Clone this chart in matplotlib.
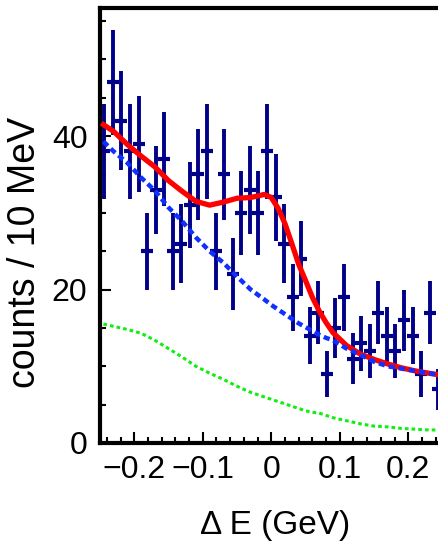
import numpy as np
import matplotlib.pyplot as plt
from matplotlib.ticker import MultipleLocator

plt.rcParams['font.family'] = ['Liberation Sans', 'DejaVu Sans']

# data points, 12.5 MeV bins from -0.25 to 0.25 GeV
bin_centers = np.arange(-0.24375, 0.25, 0.0125)
counts = [38, 47, 42, 38, 39, 25, 33, 37, 25, 26,
          31, 35, 38, 25, 35, 22, 30, 33, 30, 38,
          32, 26, 19, 24, 14, 17, 9, 15, 19, 11,
          13, 12, 17, 14, 12, 16, 14, 9, 17, 7]

# fit curves
curve_x = [-0.245, -0.23, -0.21, -0.19, -0.17, -0.15, -0.13, -0.11, -0.09, -0.07,
           -0.05, -0.03, -0.01, 0.0, 0.01, 0.02, 0.03, 0.04, 0.05, 0.06,
           0.07, 0.08, 0.09, 0.11, 0.13, 0.15, 0.17, 0.19, 0.21, 0.23, 0.25]
total = [41.5, 40.6, 38.9, 37.4, 36.0, 34.2, 32.8, 31.5, 31.0, 31.4,
         31.9, 32.0, 32.4, 32.0, 30.6, 28.6, 26.0, 23.3, 21.2, 19.0,
         17.2, 15.7, 14.4, 12.7, 11.6, 10.9, 10.3, 9.8, 9.4, 9.1, 8.8]
bkg = [39.3, 38.0, 36.5, 34.6, 32.9, 30.7, 28.9, 26.8, 25.0, 23.5,
       21.7, 20.0, 18.7, 18.0, 17.4, 16.8, 16.2, 15.6, 15.1, 14.6,
       14.1, 13.7, 13.4, 12.3, 11.5, 10.6, 10.0, 9.7, 9.4, 9.1, 8.8]
comp = [15.5, 15.2, 14.8, 14.3, 13.4, 12.3, 11.2, 10.0, 9.1, 8.3,
        7.4, 6.6, 6.0, 5.7, 5.4, 5.1, 4.8, 4.5, 4.2, 4.0,
        3.9, 3.6, 3.3, 2.9, 2.5, 2.2, 2.1, 1.9, 1.8, 1.7, 1.7]

fig = plt.figure(figsize=(4.39, 5.49), dpi=100)
ax = fig.add_axes([100 / 439, 106 / 549, 342.5 / 439, 435 / 549])

ax.errorbar(bin_centers, counts, yerr=np.sqrt(counts), fmt='_', color='#000088',
            ms=9, mew=3, elinewidth=2.8, capsize=0, zorder=2)
ax.plot(curve_x, comp, color='#11ee11', lw=2.2, ls=(0, (1.2, 1.0)), zorder=3)
ax.plot(curve_x, total, color='#ff0000', lw=3.8, zorder=4)
ax.plot(curve_x, bkg, color='#1030ff', lw=3.2, ls=(0, (1.4, 0.9)), zorder=5)

ax.set_xlim(-0.25, 0.25)
ax.set_ylim(0, 56.7)
ax.xaxis.set_major_locator(MultipleLocator(0.1))
ax.xaxis.set_minor_locator(MultipleLocator(0.02))
ax.yaxis.set_major_locator(MultipleLocator(20))
ax.yaxis.set_minor_locator(MultipleLocator(5))
ax.set_xticks([-0.2, -0.1, 0, 0.1, 0.2])
ax.set_xticklabels(['\u22120.2', '\u22120.1', '0', '0.1', '0.2'])

ax.tick_params(which='both', direction='in', top=False, right=False, width=1.5, labelsize=23)
ax.tick_params(which='major', length=8, pad=9)
ax.tick_params(which='minor', length=4)
for s in ax.spines.values():
    s.set_linewidth(3)

ax.set_xlabel('\u0394 E (GeV)', fontsize=24)
ax.xaxis.set_label_coords(0.51, -0.155)
ax.set_ylabel('counts / 10 MeV', fontsize=27)
ax.yaxis.set_label_coords(-0.165, 0.437)

plt.savefig('out.png', dpi=100)
